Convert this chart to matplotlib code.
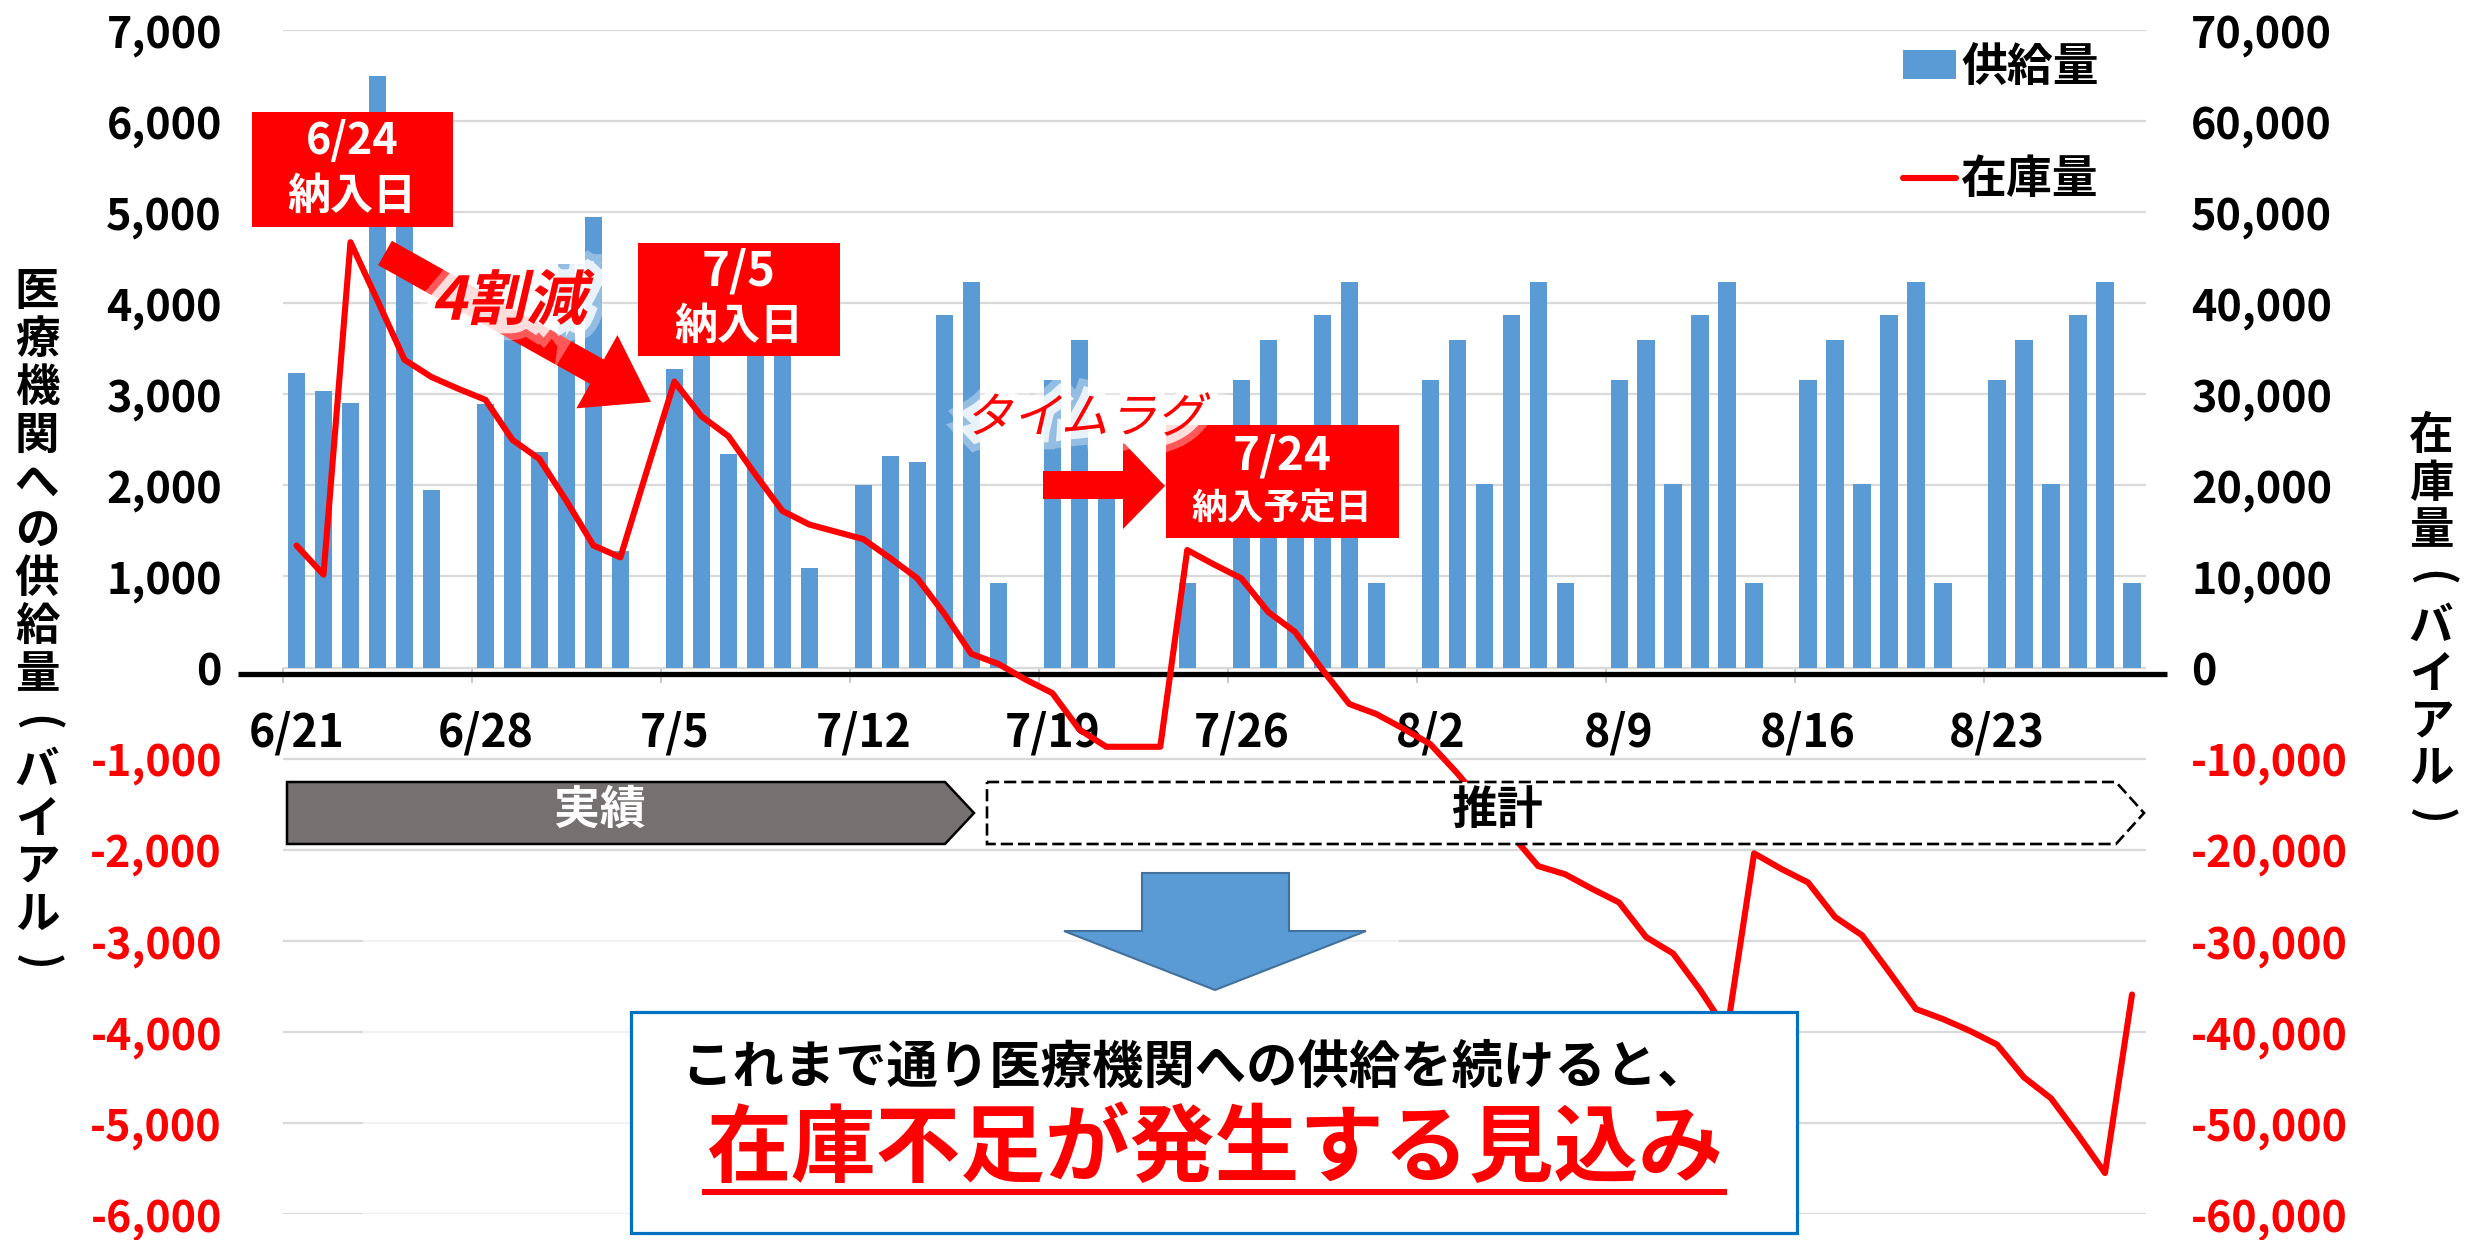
import matplotlib
matplotlib.use("Agg")
import numpy as np
import pandas as pd
import matplotlib.pyplot as plt
import matplotlib.patheffects as pe
from matplotlib.patches import Rectangle, Polygon, PathPatch
from matplotlib.textpath import TextPath
from matplotlib.font_manager import FontProperties
from matplotlib.transforms import Affine2D

plt.rcParams["font.family"] = ["Noto Sans CJK JP", "DejaVu Sans"]

# ---- data ----
days = pd.date_range("2021-06-21", "2021-08-28", freq="D")

supply = [
    3230, 3040, 2910, 6500, 5300, 1950, 0,
    2890, 3900, 2370, 4430, 4950, 1280, 0,
    3280, 3650, 2350, 3800, 3600, 1090, 0,
    2000, 2320, 2260, 3870, 4230, 930, 0,
    3160, 3600, 2000, 0, 0, 930, 0,
    3160, 3600, 2000, 3870, 4230, 930, 0,
    3160, 3600, 2010, 3870, 4230, 930, 0,
    3160, 3600, 2010, 3870, 4230, 930, 0,
    3160, 3600, 2010, 3870, 4230, 930, 0,
    3160, 3600, 2010, 3870, 4230, 930,
]

stock = [
    13400, 10200, 46700, 40300, 33800, 31900, 30600,
    29400, 25000, 22900, 18300, 13400, 12100, 21800,
    31400, 27600, 25400, 21200, 17200, 15700, 14900,
    14100, 12000, 9800, 5900, 1500, 400, -1300,
    -2800, -6800, -8700, -8700, -8700, 12900, 11300,
    9800, 6100, 3900, -200, -4000, -5100, -6700,
    -8400, -11600, -15100, -18300, -21800, -22700, -24300,
    -25800, -29600, -31400, -35400, -39900, -20400, -22100,
    -23600, -27400, -29400, -33400, -37500, -38600, -39900,
    -41400, -45000, -47300, -51300, -55500, -35900,
]

left_ticks = list(range(-6000, 7001, 1000))
right_ticks = list(range(-60000, 70001, 10000))
week_idx = list(range(0, len(days), 7))
week_labels = [f"{days[i].month}/{days[i].day}" for i in week_idx]

BLUE = "#5B9BD5"
RED = "#FF0000"

W, H = 2471, 1240
fig = plt.figure(figsize=(W / 100, H / 100), dpi=100)


def fx(x):
    return x / W


def fy(y):
    return 1 - y / H


ax = fig.add_axes([fx(283), fy(1214), (2145.5 - 283) / W, (1214 - 30) / H])
ax2 = ax.twinx()

x = np.arange(len(days))
bars = ax.bar(x, supply, width=0.64, color=BLUE, zorder=2)
line, = ax2.plot(x, stock, color=RED, lw=4.4, solid_joinstyle="round",
                 solid_capstyle="round", zorder=3)

ax.set_xlim(-0.5, len(days) - 0.5)
ax.set_ylim(-6000, 7000)
ax2.set_ylim(-60000, 70000)

for a in (ax, ax2):
    for s in a.spines.values():
        s.set_visible(False)
ax.spines["bottom"].set_position(("data", 0))

ax.set_axisbelow(True)
ax.grid(axis="y", color="#D9D9D9", lw=1.6)

ax.set_yticks(left_ticks, labels=[f"{v:,}" for v in left_ticks])
ax2.set_yticks(right_ticks, labels=[f"{v:,}" for v in right_ticks])
for lbl, v in zip(ax.get_yticklabels(), left_ticks):
    lbl.set_color(RED if v < 0 else "black")
    lbl.set_fontweight("bold")
for lbl, v in zip(ax2.get_yticklabels(), right_ticks):
    lbl.set_color(RED if v < 0 else "black")
    lbl.set_fontweight("bold")
ax.tick_params(axis="y", length=0, pad=44, labelsize=31)
ax2.tick_params(axis="y", length=0, pad=33, labelsize=31)

ax.set_xticks(week_idx, labels=week_labels)
for lbl in ax.get_xticklabels():
    lbl.set_fontweight("bold")
ax.tick_params(axis="x", which="major", length=0, pad=31, labelsize=32)
ax.set_xticks(np.arange(-0.5, len(days) - 6, 7), minor=True)
ax.tick_params(axis="x", which="minor", length=11, width=1.2, color="#BFBFBF")

# thick zero line
ax.plot([-2.15, 69.3], [-70, -70], color="black", lw=3.8, clip_on=False,
        zorder=3, solid_capstyle="butt")

ax2.legend([bars, line], ["供給量", "在庫量"], loc="upper left",
           bbox_to_anchor=(fx(1903), fy(45)), bbox_transform=fig.transFigure,
           frameon=False, prop={"weight": "bold", "size": 33},
           handlelength=1.15, handleheight=0.6, handletextpad=0.12,
           labelspacing=1.45, borderpad=0, borderaxespad=0)


# ---- overlay shapes ----
def box(x0, y0, x1, y1, **kw):
    fig.add_artist(Rectangle((fx(x0), fy(y1)), (x1 - x0) / W, (y1 - y0) / H,
                             transform=fig.transFigure, **kw))


def poly(pts, **kw):
    fig.add_artist(Polygon([(fx(px), fy(py)) for px, py in pts], closed=True,
                           transform=fig.transFigure, **kw))


def txt(px, py, s, **kw):
    fig.text(fx(px), fy(py), s, ha="center", va="center", **kw)


def skew_text(s, xc, yc, size, weight, color=RED, skew=13):
    fp = FontProperties(family="Noto Sans CJK JP", weight=weight)
    tp = TextPath((0, 0), s, size=size, prop=fp)
    bb = tp.get_extents()
    tr = (Affine2D().translate(-(bb.x0 + bb.x1) / 2, -(bb.y0 + bb.y1) / 2)
          .skew_deg(skew, 0).translate(xc, H - yc))
    p = PathPatch(tp, transform=tr, fc=color, ec="none", zorder=5,
                  path_effects=[pe.Stroke(linewidth=22, foreground="white", alpha=0.35),
                                pe.Stroke(linewidth=12, foreground="white", alpha=0.8),
                                pe.Normal()])
    fig.add_artist(p)


# faint white veil under the blue arrow
box(363, 862, 1399, 1240, fc="white", ec="none", alpha=0.65)

# 4割減 arrow
tail = np.array([385.0, 253.0])
tip = np.array([651.0, 402.0])
u = (tip - tail) / np.linalg.norm(tip - tail)
n = np.array([-u[1], u[0]])
base = tip - u * 62
poly([tail + n * 14, base + n * 14, base + n * 42, tip,
      base - n * 42, base - n * 14, tail - n * 14], fc=RED, ec="none")
skew_text("4割減", 514, 297, 60, "bold")

# time-lag arrow
poly([(1043, 471), (1123, 471), (1123, 442), (1165, 486), (1123, 529),
      (1123, 499), (1043, 499)], fc=RED, ec="none")
skew_text("タイムラグ", 1090, 414, 48, "normal")

# date boxes
box(252, 112, 453, 227, fc=RED, ec="none")
txt(352, 141, "6/24", color="white", fontsize=31, fontweight="bold")
txt(352, 196, "納入日", color="white", fontsize=31, fontweight="bold")

box(638, 243, 840, 356, fc=RED, ec="none")
txt(739, 272, "7/5", color="white", fontsize=34, fontweight="bold")
txt(739, 326, "納入日", color="white", fontsize=31, fontweight="bold")

box(1166, 425, 1399, 538, fc=RED, ec="none")
txt(1282, 457, "7/24", color="white", fontsize=33, fontweight="bold")
txt(1282, 509, "納入予定日", color="white", fontsize=26, fontweight="bold")

# actual / estimate banners
poly([(287, 782), (945, 782), (974, 813), (945, 844), (287, 844)],
     fc="#767171", ec="black", lw=1.8)
txt(600, 811, "実績", color="white", fontsize=33, fontweight="bold")
poly([(987, 782), (2116, 782), (2144, 813), (2116, 844), (987, 844)],
     fc="white", ec="black", lw=1.9, ls=(0, (4.6, 1.9)))
txt(1497, 811, "推計", color="black", fontsize=33, fontweight="bold")

# blue down arrow
poly([(1142, 873), (1289, 873), (1289, 931), (1366, 931), (1215, 990),
      (1064, 931), (1142, 931)], fc=BLUE, ec="#41719C", lw=1.5)

# message box
box(631, 1012, 1797, 1233, fc="white", ec="#0070C0", lw=2.3)
txt(1195, 1067, "これまで通り医療機関への供給を続けると、", color="black",
    fontsize=37, fontweight="bold")
txt(1215, 1150, "在庫不足が発生する見込み", color=RED, fontsize=61,
    fontweight="bold")
box(702, 1189, 1727, 1195, fc=RED, ec="none")


# vertical axis titles (tategaki, brackets turned)
def vertical_title(xc, y0, step, s):
    for i, ch in enumerate(s):
        yc = y0 + step * i
        if ch in "()":
            txt(xc, yc, ch, color="black", fontsize=32, fontweight="bold",
                rotation=-90)
        else:
            txt(xc, yc, ch, color="black", fontsize=32, fontweight="bold")


vertical_title(37, 292, 47.9, "医療機関への供給量(バイアル)")
vertical_title(2431, 436, 47.6, "在庫量(バイアル)")

fig.savefig("out.png", dpi=100)
